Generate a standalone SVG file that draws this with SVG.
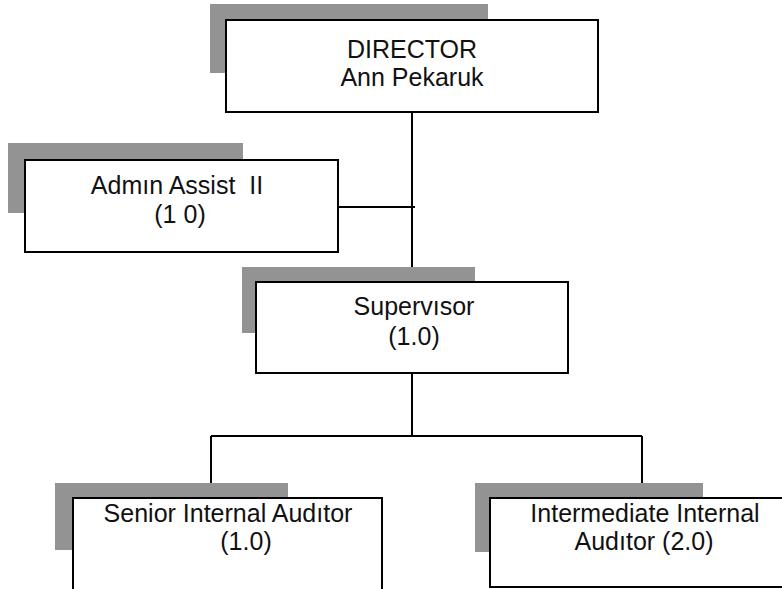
<svg xmlns="http://www.w3.org/2000/svg" width="782" height="589" viewBox="0 0 782 589">
<style>
.shadow{fill:#939393}
.box{fill:#fff;stroke:#000;stroke-width:2}
.lbl{font-family:"Liberation Sans",Arial,sans-serif;font-size:25px;fill:#111;text-anchor:middle;white-space:pre}
.conn line{stroke:#000;stroke-width:2}
</style>
<rect width="782" height="589" fill="#fff"/>
<g id="connectors" class="conn">
<line x1="412" y1="112" x2="412" y2="282"/>
<line x1="338" y1="207" x2="415" y2="207"/>
<line x1="412" y1="373" x2="412" y2="436"/>
<line x1="211" y1="436" x2="642" y2="436"/>
<line x1="211" y1="436" x2="211" y2="498"/>
<line x1="642" y1="436" x2="642" y2="498"/>
</g>
<g id="director">
<path class="shadow" d="M210 4H488V20H226V73H210Z"/>
<rect class="box" x="226" y="20" width="372" height="92"/>
<text class="lbl" x="412" y="58">DIRECTOR</text>
<text class="lbl" x="412" y="86">Ann Pekaruk</text>
</g>
<g id="admin">
<path class="shadow" d="M8 143H243V160H25V213H8Z"/>
<rect class="box" x="25" y="160" width="313" height="92"/>
<text class="lbl" x="177" y="194" xml:space="preserve">Admın Assist  II</text>
<text class="lbl" x="180" y="223" xml:space="preserve">(1 0)</text>
</g>
<g id="supervisor">
<path class="shadow" d="M242 267H475V282H256V333H242Z"/>
<rect class="box" x="256" y="282" width="312" height="91"/>
<text class="lbl" x="414" y="315">Supervısor</text>
<text class="lbl" x="414" y="345">(1.0)</text>
</g>
<g id="senior">
<path class="shadow" d="M55 483H288V498H73V550H55Z"/>
<rect class="box" x="73" y="498" width="309" height="100"/>
<text class="lbl" x="228" y="522">Senior Internal Audıtor</text>
<text class="lbl" x="246" y="550">(1.0)</text>
</g>
<g id="intermediate">
<path class="shadow" d="M475 483H703V498H490V552H475Z"/>
<rect class="box" x="490" y="498" width="310" height="89"/>
<text class="lbl" x="645" y="522">Intermediate Internal</text>
<text class="lbl" x="644" y="550">Audıtor (2.0)</text>
</g>
</svg>
